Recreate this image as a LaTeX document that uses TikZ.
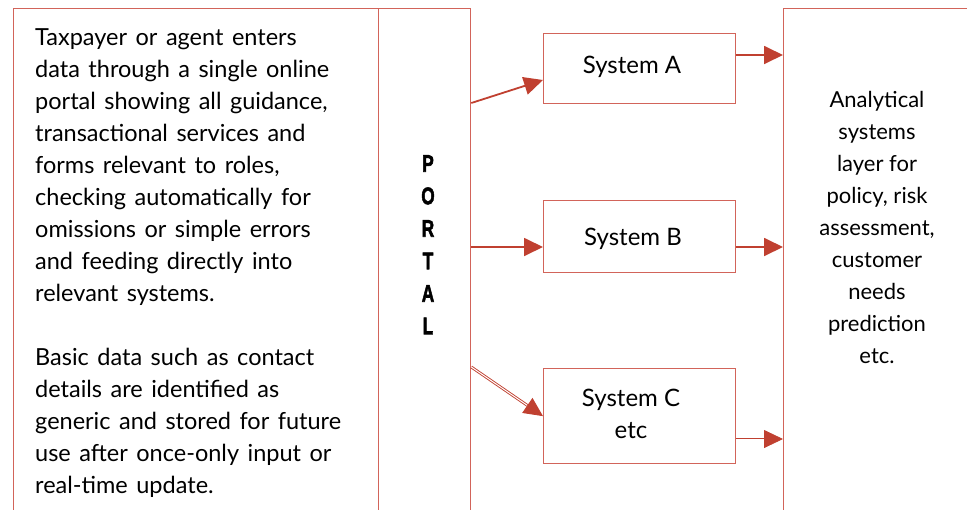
\documentclass[tikz,border=0pt]{standalone}
\usepackage{fontspec}
\setmainfont{Lato}
\newfontfamily\pfont{Liberation Sans}[BoldFeatures={FakeBold=2.5}]
\usetikzlibrary{arrows.meta,calc}
\definecolor{boxC}{RGB}{210,100,90}
\definecolor{arrC}{RGB}{192,64,48}
\newcommand{\pl}[1]{\scalebox{0.72}[1]{#1}}
\newcommand{\wsp}{\spaceskip=8.5pt plus 2pt minus 1pt\relax}
\tikzset{
  frame/.style={draw=boxC, line width=1.3pt, rectangle, inner sep=0pt, anchor=north west},
  sysbox/.style={draw=boxC, line width=1.3pt, rectangle, inner sep=0pt, minimum width=192pt, anchor=north west},
  conn/.style={draw=arrC, line width=1.8pt, -{Triangle[length=19pt,width=18pt]}},
  body/.style={font=\fontsize{23.5}{32}\selectfont\wsp, inner sep=0pt, text=black},
  rbody/.style={font=\fontsize{22}{32}\selectfont, inner sep=0pt, text=black},
  sbody/.style={font=\fontsize{24}{32}\selectfont, inner sep=0pt, text=black},
}
\begin{document}
\begin{tikzpicture}[x=1pt,y=-1pt]
\useasboundingbox (0,0) rectangle (967,509);
\clip (0,0) rectangle (967,509);
% frames
\node[frame, minimum width=457pt, minimum height=530pt] (left) at (13,8) {};
\node[frame, minimum width=92pt, minimum height=530pt] (portal) at (378,8) {};
\node[frame, minimum width=220pt, minimum height=530pt] (analytic) at (783,8) {};
% left text
\node[body, align=left, anchor=north west] (ltext) at (35,28) {Taxpayer or agent enters\\data through a single online\\portal showing all guidance,\\transactional services and\\forms relevant to roles,\\checking automatically for\\omissions or simple errors\\and feeding directly into\\relevant systems.\\[32pt]Basic data such as contact\\details are identified as\\generic and stored for future\\use after once-only input or\\real-time update.};
% portal letters
\node[inner sep=0pt, align=center, anchor=north, font=\pfont\fontsize{24}{32.5}\selectfont\bfseries] (pletters) at (428,155)
  {\pl{P}\\\pl{O}\\\pl{R}\\\pl{T}\\\pl{A}\\\pl{L}};
% system boxes
\node[sysbox, minimum height=70pt] (sysA) at (543,33) {};
\node[sbody, anchor=center] (tA) at (632,67) {System A};
\node[sysbox, minimum height=72pt] (sysB) at (543,200) {};
\node[sbody, anchor=center] (tB) at (633,239) {System B};
\node[sysbox, minimum height=95pt] (sysC) at (543,368) {};
\node[sbody, align=center, anchor=center] (tC) at (631,414) {System C\\etc};
% right text
\node[rbody, align=center, anchor=north] (rtext) at (877,91) {Analytical\\systems\\layer for\\policy, risk\\assessment,\\customer\\needs\\prediction\\etc.};
% connector coordinates
\coordinate (pa) at (portal.east |- 0,103);
\coordinate (pb) at (portal.east |- 0,247);
\coordinate (pc) at (portal.east |- 0,367);
\coordinate (ainA) at (sysA.west |- 0,80);
\coordinate (ainB) at (sysB.west |- 0,247);
\coordinate (aoutA) at (sysA.east |- 0,55);
\coordinate (aoutB) at (sysB.east |- 0,247);
\coordinate (aoutC) at (sysC.east |- 0,439);
\coordinate (rA) at (analytic.west |- 0,55);
\coordinate (rB) at (analytic.west |- 0,247);
\coordinate (rC) at (analytic.west |- 0,439);
% connectors
\draw[conn] (pa) -- (ainA);
\draw[conn] (pb) -- (ainB);
\draw[conn, line width=0.9pt, double=white, double distance=1pt] (pc) -- (sysC.west);
\draw[conn] (aoutA) -- (rA);
\draw[conn] (aoutB) -- (rB);
\draw[conn, line width=0.8pt, double=white, double distance=0.8pt] (aoutC) -- (rC);
\end{tikzpicture}
\end{document}
